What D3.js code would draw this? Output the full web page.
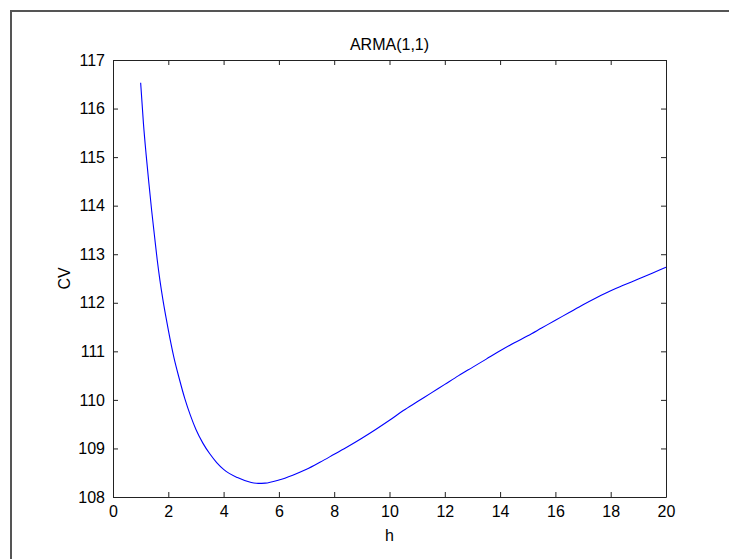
<!DOCTYPE html>
<html>
<head>
<meta charset="utf-8">
<script src="https://cdn.jsdelivr.net/npm/d3@7"></script>
<style>
  html, body { margin: 0; padding: 0; background: #fff; }
  svg { display: block; }
  text { font-family: "Liberation Sans", Arial, sans-serif; fill: #000; }
</style>
</head>
<body>
<script>
// ---- data ----
const hValues = [1.0, 1.1, 1.2, 1.3, 1.4, 1.5, 1.6, 1.7, 1.8, 1.9, 2.0, 2.2, 2.4, 2.6, 2.8, 3.0, 3.25, 3.5, 3.75, 4.0, 4.5, 5.0, 5.25, 5.5, 6.0, 6.5, 7.0, 7.5, 8.0, 8.5, 9.0, 9.5, 10.0, 10.5, 11.0, 11.5, 12.0, 12.5, 13.0, 13.5, 14.0, 14.5, 15.0, 15.5, 16.0, 16.5, 17.0, 17.5, 18.0, 18.5, 19.0, 19.5, 20.0];
const cvValues = [116.53, 115.70, 115.04, 114.45, 113.89, 113.38, 112.88, 112.45, 112.08, 111.75, 111.44, 110.88, 110.43, 110.02, 109.68, 109.39, 109.11, 108.89, 108.71, 108.57, 108.40, 108.30, 108.28, 108.285, 108.35, 108.45, 108.57, 108.72, 108.88, 109.04, 109.21, 109.39, 109.58, 109.78, 109.96, 110.14, 110.32, 110.5, 110.67, 110.84, 111.01, 111.17, 111.32, 111.48, 111.64, 111.8, 111.96, 112.11, 112.25, 112.37, 112.49, 112.61, 112.73];
const xTicks = [0, 2, 4, 6, 8, 10, 12, 14, 16, 18, 20];
const yTicks = [108, 109, 110, 111, 112, 113, 114, 115, 116, 117];
const titleText = "ARMA(1,1)";
const xLabel = "h";
const yLabel = "CV";

// ---- layout ----
const W = 729, H = 559;
const mLeft = 113, mRight = 666, mTop = 60, mBottom = 497;

const svg = d3.select("body").append("svg").attr("width", W).attr("height", H);

// outer figure border (extends past the window)
svg.append("rect")
  .attr("x", 11).attr("y", 11).attr("width", W + 20).attr("height", H + 20)
  .attr("fill", "none").attr("stroke", "#555").attr("stroke-width", 2);

const x = d3.scaleLinear().domain([0, 20]).range([mLeft, mRight]);
const y = d3.scaleLinear().domain([108, 117]).range([mBottom, mTop]);

const fs = 16;
const axisColor = "#222";

const gx = svg.append("g").attr("transform", `translate(0,${mBottom})`)
  .call(d3.axisBottom(x).tickValues(xTicks).tickSizeInner(-5).tickSizeOuter(0).tickPadding(9).tickFormat(d3.format("d")));
const gxt = svg.append("g").attr("transform", `translate(0,${mTop})`)
  .call(d3.axisTop(x).tickValues(xTicks).tickSizeInner(-5).tickSizeOuter(0).tickFormat(""));
const gy = svg.append("g").attr("transform", `translate(${mLeft},0)`)
  .call(d3.axisLeft(y).tickValues(yTicks).tickSizeInner(-5).tickSizeOuter(0).tickPadding(8).tickFormat(d3.format("d")));
const gyr = svg.append("g").attr("transform", `translate(${mRight},0)`)
  .call(d3.axisRight(y).tickValues(yTicks).tickSizeInner(-5).tickSizeOuter(0).tickFormat(""));

[gx, gxt, gy, gyr].forEach(g => {
  g.select(".domain").attr("stroke", axisColor).attr("stroke-width", 1);
  g.selectAll(".tick line").attr("stroke", axisColor).attr("stroke-width", 1);
  g.selectAll("text").attr("font-size", fs).attr("font-family", "'Liberation Sans', Arial, sans-serif").attr("fill", "#000");
});

// curve
const line = d3.line().x(d => x(d[0])).y(d => y(d[1])).curve(d3.curveMonotoneX);
const pts = hValues.map((h, i) => [h, cvValues[i]]);
svg.append("path").datum(pts)
  .attr("d", line)
  .attr("fill", "none")
  .attr("stroke", "#0000ff")
  .attr("stroke-width", 1.1);

// title and labels
svg.append("text").attr("x", (mLeft + mRight) / 2).attr("y", 50)
  .attr("text-anchor", "middle").attr("font-size", fs).text(titleText);
svg.append("text").attr("x", (mLeft + mRight) / 2).attr("y", 541)
  .attr("text-anchor", "middle").attr("font-size", fs).text(xLabel);
svg.append("text")
  .attr("transform", `translate(70,${(mTop + mBottom) / 2}) rotate(-90)`)
  .attr("text-anchor", "middle").attr("font-size", fs).text(yLabel);
</script>
</body>
</html>
